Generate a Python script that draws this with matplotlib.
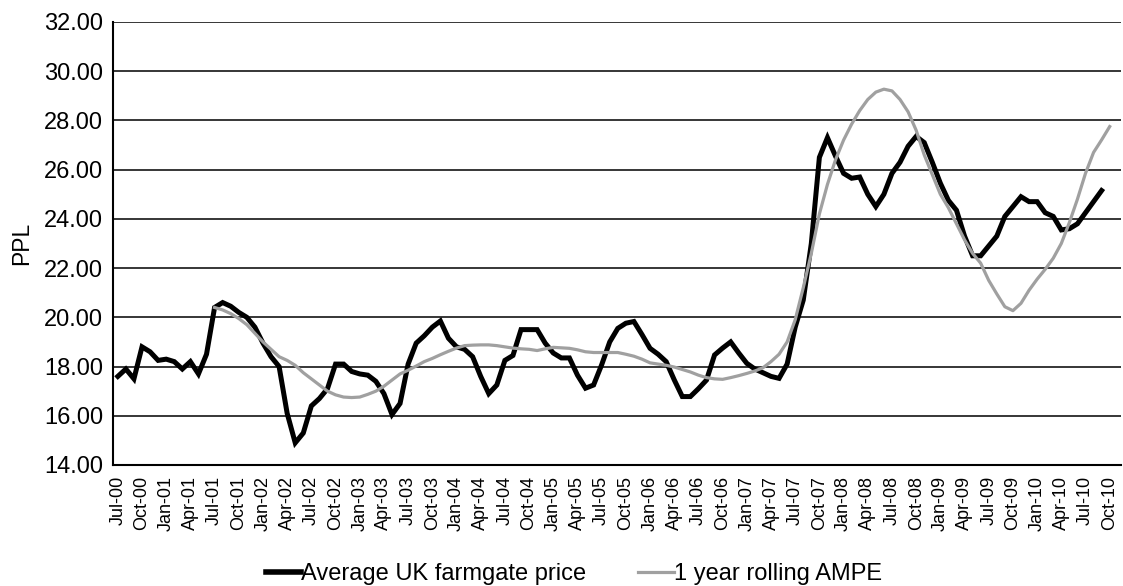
import numpy as np
import pandas as pd
import matplotlib
matplotlib.use('Agg')
import matplotlib.pyplot as plt

plt.rcParams['font.family'] = ['Liberation Sans', 'DejaVu Sans']

# monthly categories, Jul-00 .. Oct-10
months = pd.date_range('2000-07-01', periods=124, freq='MS')
month_labels = [m.strftime('%b-%y') for m in months]

# average UK farmgate price (ppl), Jul-00 .. Sep-10
farmgate = [
    17.6, 17.9, 17.5, 18.8, 18.6, 18.25, 18.3, 18.2, 17.9, 18.2, 17.7, 18.5,
    20.4, 20.6, 20.45, 20.2, 20.0, 19.6, 18.95, 18.4, 18.0, 16.1, 14.9, 15.3,
    16.4, 16.7, 17.1, 18.1, 18.1, 17.8, 17.7, 17.65, 17.4, 16.9, 16.05, 16.5,
    18.1, 18.95, 19.25, 19.6, 19.85, 19.15, 18.8, 18.7, 18.4, 17.6, 16.9, 17.25,
    18.25, 18.45, 19.5, 19.5, 19.5, 18.95, 18.55, 18.35, 18.35, 17.65, 17.12, 17.25,
    18.07, 19.0, 19.55, 19.76, 19.83, 19.3, 18.74, 18.5, 18.2, 17.46, 16.78, 16.78,
    17.1, 17.45, 18.47, 18.75, 19.0, 18.55, 18.13, 17.9, 17.75, 17.6, 17.52, 18.1,
    19.6, 20.7, 23.0, 26.5, 27.3, 26.55, 25.85, 25.65, 25.7, 25.0, 24.5, 25.0,
    25.85, 26.3, 26.95, 27.35, 27.1, 26.3, 25.45, 24.75, 24.35, 23.3, 22.5, 22.5,
    22.9, 23.3, 24.1, 24.5, 24.9, 24.7, 24.7, 24.25, 24.1, 23.55, 23.6, 23.8,
    24.25, 24.7, 25.15,
]

# 1 year rolling AMPE, Jul-01 .. Oct-10
ampe_start = 12
ampe = [
    20.4, 20.3, 20.15, 19.95, 19.7, 19.35, 19.0, 18.7, 18.4, 18.25,
    18.05, 17.75, 17.5, 17.25, 17.0, 16.85, 16.76, 16.74, 16.76, 16.87,
    17.0, 17.2, 17.45, 17.7, 17.85, 18.02, 18.2, 18.33, 18.48, 18.62,
    18.75, 18.85, 18.87, 18.88, 18.88, 18.85, 18.8, 18.75, 18.72, 18.7,
    18.65, 18.72, 18.78, 18.76, 18.74, 18.68, 18.6, 18.57, 18.57, 18.57,
    18.57, 18.5, 18.42, 18.3, 18.15, 18.1, 18.05, 17.98, 17.88, 17.78,
    17.65, 17.55, 17.5, 17.48, 17.55, 17.63, 17.72, 17.82, 17.95, 18.2,
    18.5, 19.0, 19.9, 21.2, 22.6, 24.2, 25.4, 26.4, 27.2, 27.85,
    28.4, 28.85, 29.15, 29.27, 29.2, 28.85, 28.35, 27.6, 26.6, 25.8,
    25.0, 24.45, 23.8, 23.15, 22.6, 22.2, 21.5, 20.95, 20.43, 20.27,
    20.57, 21.1, 21.55, 21.95, 22.4, 23.0, 23.85, 24.8, 25.85, 26.7,
    27.21, 27.75,
]

x_farm = np.arange(len(farmgate))
x_ampe = np.arange(ampe_start, ampe_start + len(ampe))

fig = plt.figure(figsize=(11.23, 5.86), dpi=100)
ax = fig.add_axes([0.1006, 0.2065, 0.8976, 0.756])

ax.plot(x_farm, farmgate, color='black', lw=3.6, solid_joinstyle='miter',
        label='Average UK farmgate price', zorder=3)
ax.plot(x_ampe, ampe, color='#a0a0a0', lw=2.3,
        label='1 year rolling AMPE', zorder=3)

ax.set_ylim(14, 32)
ax.set_yticks(np.arange(14, 32.1, 2))
ax.set_yticklabels([f'{v:.2f}' for v in np.arange(14, 32.1, 2)])
ax.set_xlim(-0.6, 124.4)
ax.set_xticks(np.arange(0, len(months), 3))
ax.set_xticklabels(month_labels[::3], rotation=90)

ax.yaxis.grid(True, color='black', lw=1.1)
ax.set_axisbelow(True)
for side in ('top', 'right'):
    ax.spines[side].set_visible(False)
ax.spines['left'].set_linewidth(1.5)
ax.spines['bottom'].set_linewidth(1.5)
ax.tick_params(axis='y', length=0, pad=7, labelsize=17)
ax.tick_params(axis='x', length=0, pad=8, labelsize=13)
ax.set_ylabel('PPL', fontsize=16.5, labelpad=8)

leg = fig.legend(loc='center', bbox_to_anchor=(0.511, 0.02), ncol=2,
                 frameon=False, fontsize=17, handlelength=1.5,
                 handletextpad=0.0, columnspacing=2.2, borderpad=0.1)
leg.get_lines()[0].set_linewidth(4.0)

fig.savefig('out.png', dpi=100)
